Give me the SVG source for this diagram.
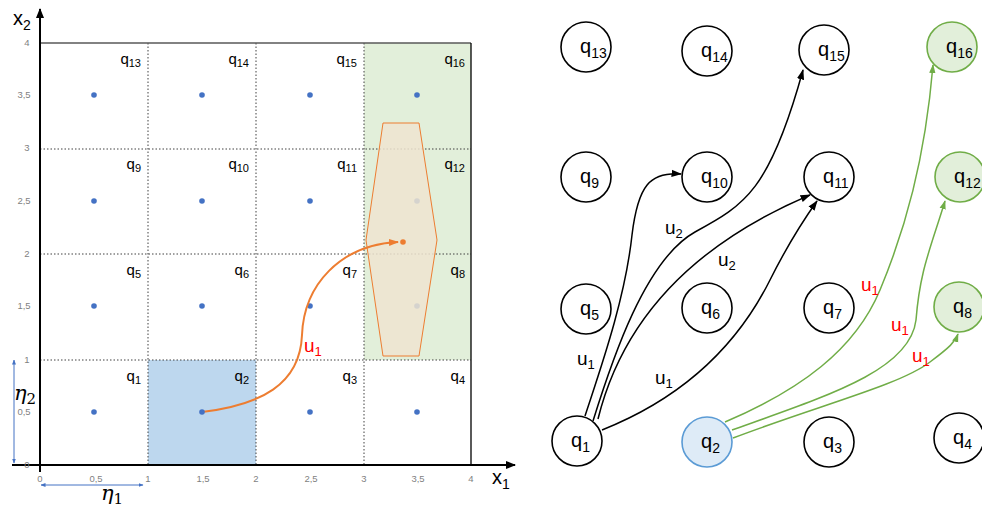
<svg xmlns="http://www.w3.org/2000/svg" width="982" height="509" viewBox="0 0 982 509">
<defs>
<style>
.grid{stroke:#404040;stroke-width:1;stroke-dasharray:1.5,2;fill:none}
.tick{font-family:"Liberation Sans",Arial,sans-serif;font-size:9.5px;fill:#7f7f7f;text-anchor:middle}
.cl{font-family:"Liberation Sans",Arial,sans-serif;font-size:15px;fill:#000;text-anchor:end}
.dot{fill:#4472C4}
.node{fill:#fff;stroke:#000;stroke-width:1.6}
.gnode{fill:#E2EFDA;stroke:#70AD47;stroke-width:1.6}
.bnode{fill:#DEEBF7;stroke:#5B9BD5;stroke-width:1.6}
.nl{font-family:"Liberation Sans",Arial,sans-serif;font-size:20px;fill:#000}
.e{fill:none;stroke:#000;stroke-width:1.5}
.g{fill:none;stroke:#70AD47;stroke-width:1.5}
.el{font-family:"Liberation Sans",Arial,sans-serif;font-size:19px;fill:#000}
.rl{font-family:"Liberation Sans",Arial,sans-serif;font-size:19px;fill:#FF0000}
.eta{font-family:"DejaVu Serif",serif;font-style:italic;font-size:21px;fill:#000}
</style>
<marker id="ab" viewBox="0 0 10 10" refX="9" refY="5" markerWidth="7" markerHeight="7" orient="auto"><path d="M0,1.5 L10,5 L0,8.5 z" fill="#000"/></marker>
<marker id="ag" viewBox="0 0 10 10" refX="9" refY="5" markerWidth="6" markerHeight="6" orient="auto"><path d="M0,1.5 L10,5 L0,8.5 z" fill="#70AD47"/></marker>
<marker id="ao" viewBox="0 0 10 10" refX="9" refY="5" markerWidth="5" markerHeight="5" orient="auto"><path d="M0,1.5 L10,5 L0,8.5 z" fill="#ED7D31"/></marker>
<marker id="axa" viewBox="0 0 10 10" refX="9" refY="5" markerWidth="5" markerHeight="5" orient="auto"><path d="M0,1 L10,5 L0,9 z" fill="#000"/></marker>
<marker id="bl" viewBox="0 0 10 10" refX="9" refY="5" markerWidth="5" markerHeight="5" orient="auto-start-reverse"><path d="M0,1 L10,5 L0,9 z" fill="#4472C4"/></marker>
</defs>

<g id="plot">
<rect x="148" y="360" width="108" height="105" fill="#BDD7EE"/>
<rect x="364" y="43" width="107" height="317" fill="#E2EFDA"/>
<g class="grid">
<line x1="148" y1="43" x2="148" y2="465"/>
<line x1="256" y1="43" x2="256" y2="465"/>
<line x1="364" y1="43" x2="364" y2="465"/>
<line x1="40" y1="149" x2="471" y2="149"/>
<line x1="40" y1="254" x2="471" y2="254"/>
<line x1="40" y1="360" x2="471" y2="360"/>
</g>
<line x1="40" y1="43" x2="471" y2="43" stroke="#595959" stroke-width="1.3"/>
<line x1="471" y1="43" x2="471" y2="465" stroke="#000" stroke-width="1.3"/>
<line x1="40" y1="472" x2="40" y2="9" stroke="#000" stroke-width="2" marker-end="url(#axa)"/>
<line x1="12" y1="465" x2="515" y2="465" stroke="#000" stroke-width="2" marker-end="url(#axa)"/>
<text x="13" y="25" font-family="Liberation Sans,Arial,sans-serif" font-size="20">x<tspan font-size="14" dy="5">2</tspan></text>
<text x="492" y="484" font-family="Liberation Sans,Arial,sans-serif" font-size="20">x<tspan font-size="14" dy="5">1</tspan></text>

<g class="tick">
<text x="27" y="46">4</text><text x="24" y="98">3,5</text><text x="27" y="151">3</text><text x="24" y="204">2,5</text>
<text x="27" y="257">2</text><text x="24" y="309">1,5</text><text x="27" y="363">1</text><text x="24" y="415">0,5</text><text x="27" y="468">0</text>
<text x="40" y="482">0</text><text x="96" y="482">0,5</text><text x="148" y="482">1</text><text x="203" y="482">1,5</text>
<text x="256" y="482">2</text><text x="311" y="482">2,5</text><text x="364" y="482">3</text><text x="418" y="482">3,5</text><text x="471" y="482">4</text>
</g>

<g class="dot">
<circle cx="94" cy="95" r="2.8"/><circle cx="202" cy="95" r="2.8"/><circle cx="310" cy="95" r="2.8"/><circle cx="417" cy="95" r="2.8"/>
<circle cx="94" cy="201" r="2.8"/><circle cx="202" cy="201" r="2.8"/><circle cx="310" cy="201" r="2.8"/><circle cx="417" cy="201" r="2.8"/>
<circle cx="94" cy="306" r="2.8"/><circle cx="202" cy="306" r="2.8"/><circle cx="310" cy="306" r="2.8"/><circle cx="417" cy="306" r="2.8"/>
<circle cx="94" cy="412" r="2.8"/><circle cx="310" cy="412" r="2.8"/><circle cx="417" cy="412" r="2.8"/>
</g>

<g class="cl">
<text x="141" y="64">q<tspan font-size="11" dy="3">13</tspan></text>
<text x="249" y="64">q<tspan font-size="11" dy="3">14</tspan></text>
<text x="357" y="64">q<tspan font-size="11" dy="3">15</tspan></text>
<text x="465" y="64">q<tspan font-size="11" dy="3">16</tspan></text>
<text x="141" y="169">q<tspan font-size="11" dy="3">9</tspan></text>
<text x="249" y="169">q<tspan font-size="11" dy="3">10</tspan></text>
<text x="357" y="169">q<tspan font-size="11" dy="3">11</tspan></text>
<text x="465" y="169">q<tspan font-size="11" dy="3">12</tspan></text>
<text x="141" y="275">q<tspan font-size="11" dy="3">5</tspan></text>
<text x="249" y="275">q<tspan font-size="11" dy="3">6</tspan></text>
<text x="357" y="275">q<tspan font-size="11" dy="3">7</tspan></text>
<text x="465" y="275">q<tspan font-size="11" dy="3">8</tspan></text>
<text x="141" y="381">q<tspan font-size="11" dy="3">1</tspan></text>
<text x="249" y="381">q<tspan font-size="11" dy="3">2</tspan></text>
<text x="357" y="381">q<tspan font-size="11" dy="3">3</tspan></text>
<text x="465" y="381">q<tspan font-size="11" dy="3">4</tspan></text>
</g>

<polygon points="383,123 419,123 437,240 419,356 383,356 366,240" fill="#EFE4D0" fill-opacity="0.85" stroke="#ED7D31" stroke-width="1"/>
<path d="M202,412 C260,405 300,385 302,335 C304,285 340,245 398,242" fill="none" stroke="#ED7D31" stroke-width="2" marker-end="url(#ao)"/>
<circle cx="403" cy="242" r="2.8" fill="#ED7D31"/>
<circle class="dot" cx="202" cy="412" r="2.8"/>
<text x="304" y="352" class="rl">u<tspan font-size="13" dy="4">1</tspan></text>

<line x1="14" y1="360" x2="14" y2="463" stroke="#4472C4" stroke-width="1" marker-start="url(#bl)" marker-end="url(#bl)"/>
<line x1="41" y1="485" x2="143" y2="485" stroke="#4472C4" stroke-width="1" marker-start="url(#bl)" marker-end="url(#bl)"/>
<text x="14" y="400" class="eta">η<tspan font-size="15" dy="4" font-style="normal">2</tspan></text>
<text x="101" y="500" class="eta">η<tspan font-size="15" dy="4" font-style="normal">1</tspan></text>
</g>

<g id="connectors">
<path class="e" d="M585,416 C600,370 625,300 632,235 C638,185 650,172 681,174" marker-end="url(#ab)"/>
<path class="e" d="M593,421 C612,360 645,260 695,232 C745,205 770,190 803,70" marker-end="url(#ab)"/>
<path class="e" d="M598,419 C620,330 680,250 810,195" marker-end="url(#ab)"/>
<path class="e" d="M602,430 C690,395 740,340 770,280 C785,250 800,225 817,201" marker-end="url(#ab)"/>
<path class="g" d="M725,422 C800,390 855,350 880,290 C905,230 925,160 933,65" marker-end="url(#ag)"/>
<path class="g" d="M732,430 C830,395 910,370 916,320 C920,270 930,250 945,201" marker-end="url(#ag)"/>
<path class="g" d="M733,438 C820,405 900,385 930,362 C950,347 955,342 958,334" marker-end="url(#ag)"/>
<text x="577" y="365" class="el">u<tspan font-size="13" dy="4">1</tspan></text>
<text x="655" y="384" class="el">u<tspan font-size="13" dy="4">1</tspan></text>
<text x="665" y="234" class="el">u<tspan font-size="13" dy="4">2</tspan></text>
<text x="718" y="266" class="el">u<tspan font-size="13" dy="4">2</tspan></text>
<text x="861" y="291" class="rl">u<tspan font-size="13" dy="4">1</tspan></text>
<text x="891" y="331" class="rl">u<tspan font-size="13" dy="4">1</tspan></text>
<text x="912" y="362" class="rl">u<tspan font-size="13" dy="4">1</tspan></text>
</g>

<g id="q13"><circle class="node" cx="586" cy="47" r="25"/><text class="nl" x="580" y="53">q<tspan font-size="14" dy="5">13</tspan></text></g>
<g id="q14"><circle class="node" cx="707" cy="51" r="25"/><text class="nl" x="701" y="57">q<tspan font-size="14" dy="5">14</tspan></text></g>
<g id="q15"><circle class="node" cx="824" cy="50" r="25"/><text class="nl" x="818" y="56">q<tspan font-size="14" dy="5">15</tspan></text></g>
<g id="q16"><circle class="gnode" cx="952" cy="47" r="25"/><text class="nl" x="946" y="53">q<tspan font-size="14" dy="5">16</tspan></text></g>
<g id="q9"><circle class="node" cx="586" cy="177" r="25"/><text class="nl" x="580" y="183">q<tspan font-size="14" dy="5">9</tspan></text></g>
<g id="q10"><circle class="node" cx="707" cy="177" r="25"/><text class="nl" x="701" y="183">q<tspan font-size="14" dy="5">10</tspan></text></g>
<g id="q11"><circle class="node" cx="829" cy="177" r="25"/><text class="nl" x="823" y="183">q<tspan font-size="14" dy="5">11</tspan></text></g>
<g id="q12"><circle class="gnode" cx="960" cy="177" r="25"/><text class="nl" x="954" y="183">q<tspan font-size="14" dy="5">12</tspan></text></g>
<g id="q5"><circle class="node" cx="586" cy="309" r="25"/><text class="nl" x="580" y="315">q<tspan font-size="14" dy="5">5</tspan></text></g>
<g id="q6"><circle class="node" cx="707" cy="308" r="25"/><text class="nl" x="701" y="314">q<tspan font-size="14" dy="5">6</tspan></text></g>
<g id="q7"><circle class="node" cx="829" cy="308" r="25"/><text class="nl" x="823" y="314">q<tspan font-size="14" dy="5">7</tspan></text></g>
<g id="q8"><circle class="gnode" cx="959" cy="307" r="25"/><text class="nl" x="953" y="313">q<tspan font-size="14" dy="5">8</tspan></text></g>
<g id="q1"><circle class="node" cx="577" cy="441" r="25"/><text class="nl" x="571" y="447">q<tspan font-size="14" dy="5">1</tspan></text></g>
<g id="q2"><circle class="bnode" cx="707" cy="442" r="25"/><text class="nl" x="701" y="448">q<tspan font-size="14" dy="5">2</tspan></text></g>
<g id="q3"><circle class="node" cx="829" cy="442" r="25"/><text class="nl" x="823" y="448">q<tspan font-size="14" dy="5">3</tspan></text></g>
<g id="q4"><circle class="node" cx="959" cy="438" r="25"/><text class="nl" x="953" y="444">q<tspan font-size="14" dy="5">4</tspan></text></g>
</svg>
